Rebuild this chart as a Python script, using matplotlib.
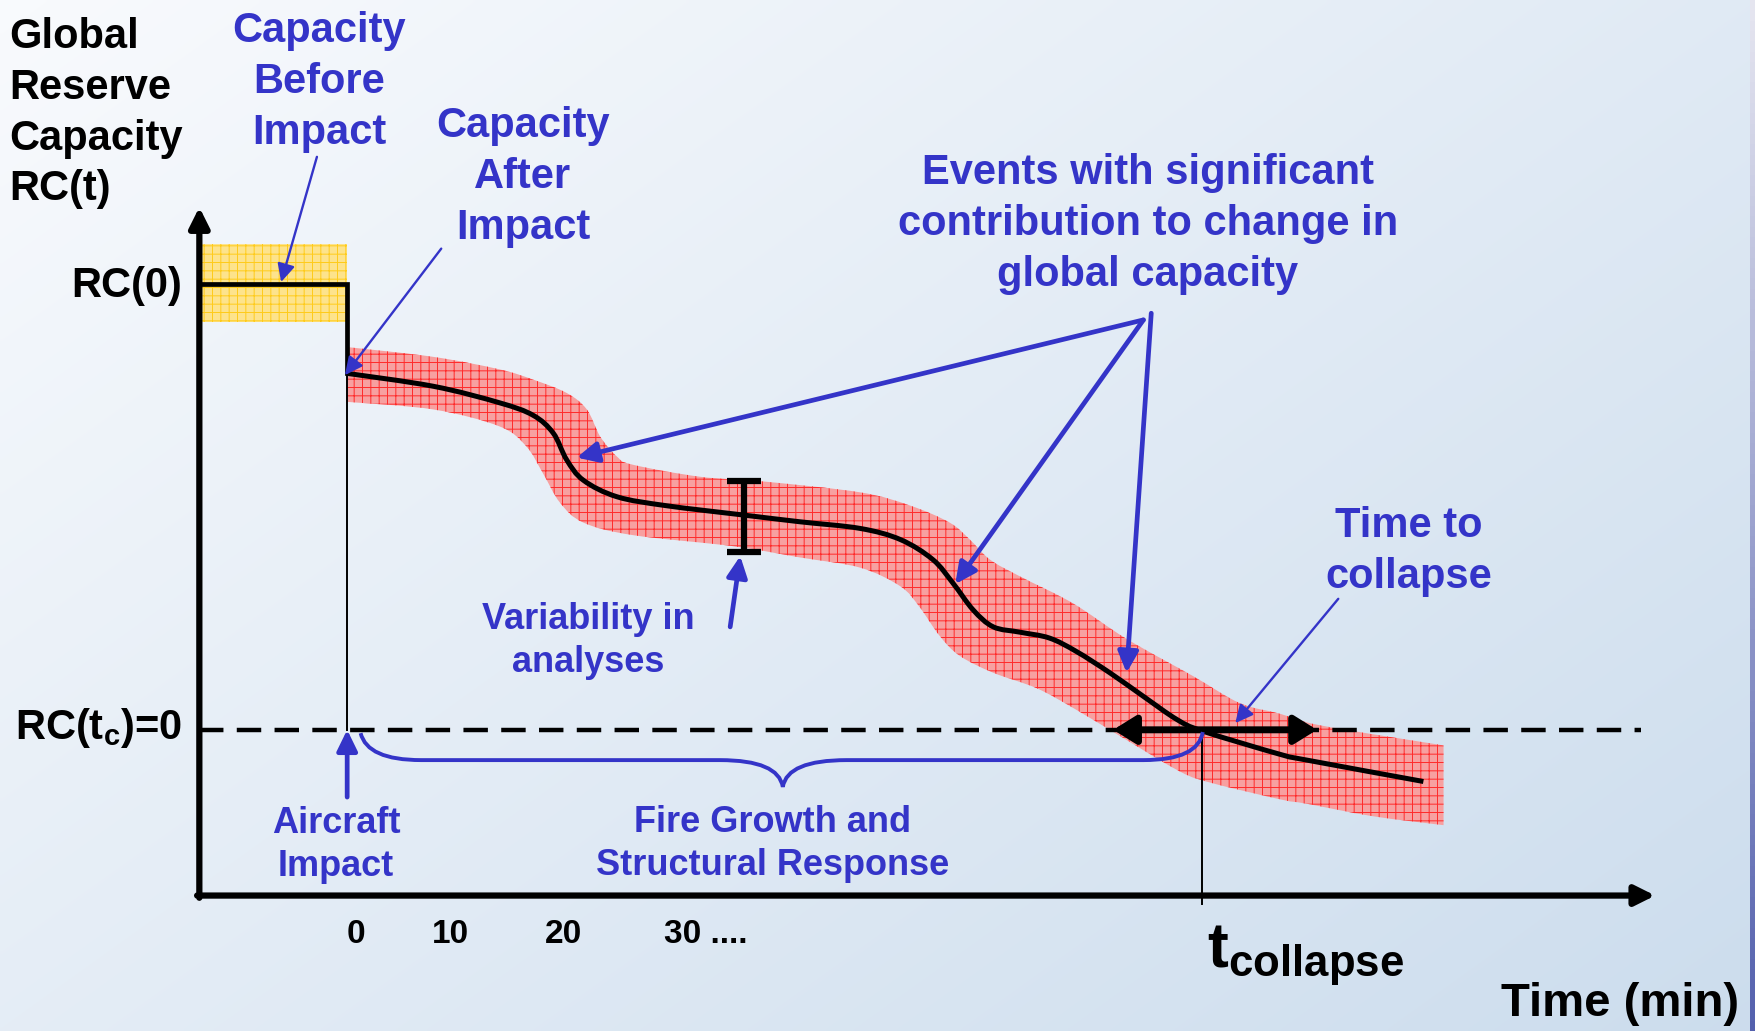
import numpy as np
import matplotlib
matplotlib.use("Agg")
import matplotlib.pyplot as plt
from matplotlib.path import Path
from matplotlib.patches import PathPatch, Rectangle

plt.rcParams['font.family'] = ['Liberation Sans', 'DejaVu Sans']
plt.rcParams['font.weight'] = 'bold'
plt.rcParams['mathtext.fontset'] = 'custom'
plt.rcParams['mathtext.rm'] = 'Liberation Sans:bold'
plt.rcParams['mathtext.it'] = 'Liberation Sans:bold'
plt.rcParams['mathtext.bf'] = 'Liberation Sans:bold'
plt.rcParams['hatch.linewidth'] = 0.7

BLUE = '#3434C8'

# capacity curve (time in arbitrary min units, capacity in % of RC(0))
curve_t = [0.0, 7.7, 13.6, 16.6, 18.4, 19.6, 21.1, 24.1, 28.5, 35.4, 40.4, 45.8,
           49.4, 52.3, 54.1, 55.9, 57.7, 60.1, 62.7, 65.1, 68.1, 71.1, 74.1,
           76.4, 83.3, 85.7, 96.1]
curve_c = [80.0, 77.1, 73.4, 70.6, 66.6, 60.6, 56.0, 52.3, 50.3, 48.2, 46.7, 45.2,
           42.7, 38.2, 32.9, 26.9, 23.1, 21.9, 20.6, 17.6, 12.8, 7.5, 2.3,
           -0.3, -5.5, -6.8, -11.6]

# variability band, upper and lower edges
band_hi_t = [0.0, 7.7, 13.6, 16.6, 19.6, 21.4, 22.6, 24.1, 25.5, 31.5, 36.9, 45.8,
             50.3, 53.8, 55.6, 57.4, 60.1, 64.8, 69.6, 75.5, 79.7, 83.3, 86.9, 97.9]
band_hi_c = [85.9, 83.7, 80.9, 78.6, 75.6, 71.9, 65.8, 61.3, 59.5, 56.8, 55.8, 53.3,
             50.3, 46.5, 42.7, 38.2, 34.4, 28.4, 20.4, 12.1, 6.0, 3.6, 1.0, -3.5]
band_lo_t = [0.0, 7.7, 13.6, 16.0, 17.5, 19.0, 21.1, 25.5, 34.5, 40.4, 45.8, 49.4,
             51.1, 52.9, 54.7, 57.7, 61.6, 65.1, 69.6, 74.1, 76.7, 83.3, 85.7, 91.6, 97.9]
band_lo_c = [73.6, 71.9, 68.1, 63.6, 57.5, 51.0, 46.5, 43.7, 41.2, 38.7, 36.4, 32.2,
             27.6, 21.1, 16.6, 12.8, 9.3, 4.5, -2.3, -9.0, -11.6, -15.6, -16.6, -19.4, -21.4]

rc0 = 100.0
rc_after = 80.0
t_collapse = 76.3
var_t, var_lo, var_hi = 35.4, 40.0, 55.9
span_lo, span_hi = 68.4, 86.6

tick_pos = [0.8, 9.2, 19.3, 32.0]
tick_lab = ['0', '10', '20', '30 ....']

# axis frame of the diagram
ax_x0, ax_x1 = -13.2, 116.8
ax_y0, ax_y1 = -37.2, 117.3


def smooth_path(xs, ys):
    """Catmull-Rom through the points, drawn as cubic Bezier segments"""
    p = np.column_stack([xs, ys]).astype(float)
    n = len(p)
    verts = [p[0]]
    codes = [Path.MOVETO]
    for i in range(n - 1):
        p0 = p[max(i - 1, 0)]
        p1, p2 = p[i], p[i + 1]
        p3 = p[min(i + 2, n - 1)]
        verts += [p1 + (p2 - p0) / 6, p2 - (p3 - p1) / 6, p2]
        codes += [Path.CURVE4] * 3
    return np.array(verts), codes


fig = plt.figure(figsize=(17.56, 10.31), dpi=100)
ax = fig.add_axes([0, 0, 1, 1])
xlim = (-31.0, 125.8)
ylim = (-67.6, 163.8)

# background gradient
gx, gy = np.meshgrid(np.linspace(0, 1, 400), np.linspace(0, 1, 240))
s = (gx * 0.55 + gy * 0.45)
c0 = np.array([0.975, 0.982, 0.993])
c1 = np.array([0.80, 0.865, 0.930])
img = c0[None, None, :] * (1 - s[..., None]) + c1[None, None, :] * s[..., None]
ax.imshow(img, extent=(xlim[0], xlim[1], ylim[0], ylim[1]), origin='upper',
          aspect='auto', zorder=0, interpolation='bilinear')
# thin border strip on the right
top_col = np.array([0.90, 0.90, 0.94])
bot_col = np.array([0.33, 0.38, 0.68])
edge = top_col + np.linspace(0, 1, 100)[:, None, None] * (bot_col - top_col)
ax.imshow(edge, extent=(125.25, xlim[1], ylim[0], ylim[1]), origin='upper',
          aspect='auto', zorder=1)
ax.set_xlim(*xlim)
ax.set_ylim(*ylim)
ax.axis('off')

# yellow box around RC(0)
ax.add_patch(Rectangle((ax_x0, 91.5), 0 - ax_x0, 17.5, facecolor='#FDE38C',
                       edgecolor='#FFCB1A', hatch='++', lw=0, zorder=2))

# red band
hv, hc = smooth_path(band_hi_t, band_hi_c)
lv, lc = smooth_path(band_lo_t[::-1], band_lo_c[::-1])
lc = [Path.LINETO] + lc[1:]
band_verts = np.vstack([hv, lv, hv[:1]])
band_codes = hc + lc + [Path.CLOSEPOLY]
ax.add_patch(PathPatch(Path(band_verts, band_codes), facecolor='#F7A0A0',
                       edgecolor='#FF2A2A', hatch='++', lw=0, zorder=2))

# dashed RC=0 line
ax.plot([ax_x0, 115.5], [0, 0], color='black', lw=3.2, dashes=(5.5, 3.0), zorder=3)

# thin verticals
ax.plot([0, 0], [rc0, 0], color='black', lw=1.4, zorder=3)
ax.plot([t_collapse, t_collapse], [0, -39.2], color='black', lw=1.4, zorder=3)

# step before impact
ax.plot([ax_x0, 0, 0], [rc0, rc0, rc_after], color='black', lw=3.4, zorder=4,
        solid_joinstyle='miter')

# capacity curve
cv, cc = smooth_path(curve_t, curve_c)
ax.add_patch(PathPatch(Path(cv, cc), fill=False, edgecolor='black', lw=3.6,
                       zorder=4, capstyle='butt'))

# variability I-bar
ax.errorbar([var_t], [(var_lo + var_hi) / 2], yerr=[(var_hi - var_lo) / 2],
            fmt='none', ecolor='black', elinewidth=4.5, capsize=12.5,
            capthick=4.5, zorder=5)

# axes with arrows
arrow_kw = dict(arrowstyle='-|>,head_length=0.4,head_width=0.2', color='black',
                lw=4.5, mutation_scale=30, shrinkA=0, shrinkB=0)
ax.annotate('', xy=(ax_x0, ax_y1), xytext=(ax_x0, ax_y0 - 0.5),
            arrowprops=arrow_kw, zorder=5)
ax.annotate('', xy=(ax_x1, ax_y0), xytext=(ax_x0 - 0.2, ax_y0),
            arrowprops=arrow_kw, zorder=5)

# collapse window double arrow
ax.annotate('', xy=(span_hi, 0), xytext=(span_lo, 0),
            arrowprops=dict(arrowstyle='<|-|>,head_length=0.45,head_width=0.28',
                            color='black', lw=5, mutation_scale=30,
                            shrinkA=0, shrinkB=0), zorder=6)


def blue_arrow(tail, tip, lw, ms):
    ax.annotate('', xy=tip, xytext=tail,
                arrowprops=dict(arrowstyle='-|>,head_length=0.45,head_width=0.22',
                                color=BLUE, lw=lw, mutation_scale=ms,
                                shrinkA=0, shrinkB=0), zorder=7)


blue_arrow((-2.7, 128.6), (-5.9, 100.5), 1.7, 24)
blue_arrow((8.4, 108.0), (-0.2, 79.6), 1.7, 24)
blue_arrow((71.1, 92.0), (20.5, 61.1), 3.4, 28)
blue_arrow((71.1, 92.0), (54.3, 32.7), 3.4, 28)
blue_arrow((71.8, 93.5), (69.6, 12.8), 3.4, 28)
blue_arrow((34.2, 23.1), (35.1, 39.0), 3.4, 28)
blue_arrow((88.5, 29.4), (79.3, 1.5), 1.7, 24)
blue_arrow((0.0, -15.1), (0.0, 0.0), 3.4, 28)

# brace under fire growth span
brace_t = [1.2, 1.8, 6.6, 33.3, 38.5, 38.9, 39.3, 44.6, 71.1, 76.0, 76.4]
brace_c = [-0.75, -6.8, -6.8, -6.8, -6.8, -12.8, -6.8, -6.8, -6.8, -6.8, -0.5]
codes = [Path.MOVETO, Path.CURVE3, Path.CURVE3, Path.LINETO, Path.CURVE3,
         Path.CURVE3, Path.CURVE3, Path.CURVE3, Path.LINETO, Path.CURVE3, Path.CURVE3]
ax.add_patch(PathPatch(Path(np.column_stack([brace_t, brace_c]), codes),
                       fill=False, edgecolor=BLUE, lw=2.8, zorder=6))

# texts
ax.text(-30.2, 160.0, 'Global\nReserve\nCapacity\nRC(t)', fontsize=30,
        ha='left', va='top', linespacing=1.35, color='black')
ax.text(-14.7, 99.5, 'RC(0)', fontsize=30, ha='right', va='center')
ax.text(-14.7, 0.5, r'RC(t$_\mathrm{c}$)=0', fontsize=30, ha='right', va='center')

ax.text(-2.5, 161.3, 'Capacity\nBefore\nImpact', fontsize=30, color=BLUE,
        ha='center', va='top', linespacing=1.35)
ax.text(15.7, 139.9, 'Capacity\nAfter\nImpact', fontsize=30, color=BLUE,
        ha='center', va='top', linespacing=1.35)
ax.text(71.5, 129.4, 'Events with significant\ncontribution to change in\nglobal capacity',
        fontsize=30, color=BLUE, ha='center', va='top', linespacing=1.35)
ax.text(94.8, 50.3, 'Time to\ncollapse', fontsize=30, color=BLUE,
        ha='center', va='top', linespacing=1.35)
ax.text(21.5, 28.6, 'Variability in\nanalyses', fontsize=26, color=BLUE,
        ha='center', va='top', linespacing=1.3)
ax.text(-1.0, -17.1, 'Aircraft\nImpact', fontsize=26, color=BLUE,
        ha='center', va='top', linespacing=1.3)
ax.text(38.0, -16.8, 'Fire Growth and\nStructural Response', fontsize=26,
        color=BLUE, ha='center', va='top', linespacing=1.3)

for p, lab in zip(tick_pos, tick_lab):
    ax.text(p, -46.0, lab, fontsize=24, ha='center', va='center')

ax.text(76.8, -53.3, r'$\mathrm{t}_{\mathrm{collapse}}$', fontsize=45,
        ha='left', va='baseline')
ax.text(124.3, -64.3, 'Time (min)', fontsize=34, ha='right', va='baseline')

fig.savefig('out.png', dpi=100)
